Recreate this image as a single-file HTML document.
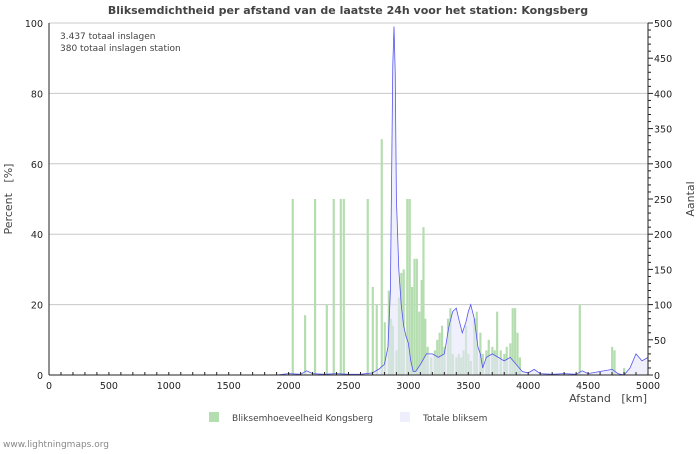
<!DOCTYPE html>
<html><head><meta charset="utf-8"><style>
body{margin:0;background:#fff;width:700px;height:450px;overflow:hidden;font-family:"DejaVu Sans","Liberation Sans",sans-serif}
svg text{font-family:"DejaVu Sans","Liberation Sans",sans-serif;white-space:pre}
</style></head><body>
<svg id="c" width="700" height="450" xmlns="http://www.w3.org/2000/svg">
<text x="348" y="14" text-anchor="middle" font-size="11" font-weight="bold" fill="#444">Bliksemdichtheid per afstand van de laatste 24h voor het station: Kongsberg</text>
<text x="60" y="39" font-size="9" fill="#444">3.437 totaal inslagen</text>
<text x="60" y="51" font-size="9" fill="#444">380 totaal inslagen station</text>
<text transform="translate(12,199) rotate(-90)" text-anchor="middle" font-size="11" fill="#444">Percent   [%]</text>
<text transform="translate(694,199) rotate(-90)" text-anchor="middle" font-size="11" fill="#444">Aantal</text>
<text x="647" y="402" text-anchor="end" font-size="11" fill="#444">Afstand   [km]</text>
<g id="grid"></g><g id="bars"></g><g id="line"></g><g id="axes"></g>
<rect x="209" y="412" width="10" height="10" fill="#b5deb0"/>
<text x="232" y="421" font-size="9" fill="#444">Bliksemhoeveelheid Kongsberg</text>
<rect x="400" y="412" width="10" height="10" fill="#eeeefc"/>
<text x="423" y="421" font-size="9" fill="#444">Totale bliksem</text>
<text x="3" y="447" font-size="9" fill="#888">www.lightningmaps.org</text>
</svg>
<script>
const barKm=[2034,2137,2220,2318,2376,2435,2460,2660,2702,2735,2777,2802,2836,2855,2870,2900,2920,2940,2960,2990,3010,3030,3050,3070,3090,3110,3125,3140,3160,3190,3220,3240,3260,3280,3300,3330,3350,3370,3400,3420,3440,3460,3480,3500,3520,3550,3570,3600,3620,3650,3670,3700,3720,3740,3770,3800,3820,3850,3870,3890,3910,3930,4430,4700,4720,4800];
const barPct=[50,17,50,20,50,50,50,50,25,20,67,15,24,16,14,7,22,29,30,50,50,25,33,33,18,27,42,16,8,5,7,10,12,14,8,16,19,6,5,6,5,7,14,6,4,16,18,12,6,7,10,8,7,18,7,6,8,9,19,19,12,5,20,8,7,2];
const lineKm=[0,500,1000,1500,1900,2000,2100,2150,2200,2300,2400,2500,2600,2700,2750,2800,2830,2850,2860,2870,2880,2890,2900,2920,2940,2960,2980,3000,3020,3040,3060,3080,3100,3150,3200,3250,3300,3320,3340,3370,3400,3420,3450,3480,3500,3520,3550,3580,3600,3620,3650,3700,3750,3800,3850,3900,3950,4000,4050,4100,4200,4300,4400,4450,4500,4600,4700,4750,4800,4850,4900,4950,5000];
const lineCnt=[0,0,0,0,0,2,1,6,2,1,2,1,1,3,8,15,40,120,280,440,495,430,250,150,100,70,55,45,20,5,5,10,15,30,30,25,30,50,70,90,95,80,60,75,90,100,80,40,30,10,25,30,25,20,25,15,5,3,8,2,1,2,1,6,2,5,8,2,0,10,30,20,25];
const yTicks=[0,20,40,60,80,100];
const rTicks=[0,50,100,150,200,250,300,350,400,450,500];
const xTicks=[0,500,1000,1500,2000,2500,3000,3500,4000,4500,5000];
const NS='http://www.w3.org/2000/svg';
const X0=49,X1=648,Y0=375,Y1=23;
const sx=k=>X0+(k/5000)*(X1-X0);
const sy=p=>Y0-(p/100)*(Y0-Y1);
const sr=c=>Y0-(c/500)*(Y0-Y1);
function mk(t,a,p){const e=document.createElementNS(NS,t);for(const k in a)e.setAttribute(k,a[k]);p.appendChild(e);return e;}
const G=document.getElementById('grid'),B=document.getElementById('bars'),L=document.getElementById('line'),A=document.getElementById('axes');
yTicks.forEach(v=>{
 const l=mk('line',{x1:X0,x2:X1,y1:sy(v),y2:sy(v),stroke:'#c8c8c8','stroke-width':1},G);
 
 
 const t=mk('text',{x:X0-6,y:sy(v)+4,'text-anchor':'end','font-size':9.5,fill:'#222'},A);t.textContent=v;
 
 
});
rTicks.forEach(v=>{
 const t=mk('text',{x:X1+6,y:sr(v)+4,'font-size':9.5,fill:'#222'},A);t.textContent=v;
 
 
});
for(let c=0;c<=500;c+=10){mk('line',{x1:X1,x2:X1+(c%50?3:5),y1:sr(c),y2:sr(c),stroke:'#222'},A);}
xTicks.forEach(v=>{
 const t=mk('text',{x:sx(v),y:Y0+14,'text-anchor':'middle','font-size':9.5,fill:'#222'},A);t.textContent=v;
 
 
});
for(let k=0;k<=5000;k+=100){mk('line',{x1:sx(k),x2:sx(k),y1:Y0,y2:Y0-3,stroke:'#222'},A);}
mk('line',{x1:X0,x2:X0,y1:Y1,y2:Y0,stroke:'#222'},A);
mk('line',{x1:X1,x2:X1,y1:Y1,y2:Y0,stroke:'#222'},A);
mk('line',{x1:X0,x2:X1,y1:Y0,y2:Y0,stroke:'#222'},A);
barKm.forEach((k,i)=>{
 const r=mk('rect',{x:sx(k)-1,y:sy(barPct[i]),width:2.2,height:Y0-sy(barPct[i]),fill:'#b5deb0'},B);
 
 
});
let pts=lineKm.map((k,i)=>sx(k).toFixed(1)+','+sr(lineCnt[i]).toFixed(1));
const area=mk('path',{d:'M'+sx(0)+','+Y0+' L'+pts.join(' L')+' L'+sx(5000)+','+Y0+'Z',fill:'#e6e6fa','fill-opacity':0.6},L);


const pl=mk('polyline',{points:pts.join(' '),fill:'none',stroke:'#5555ee','stroke-width':0.8},L);


</script>
</body></html>
